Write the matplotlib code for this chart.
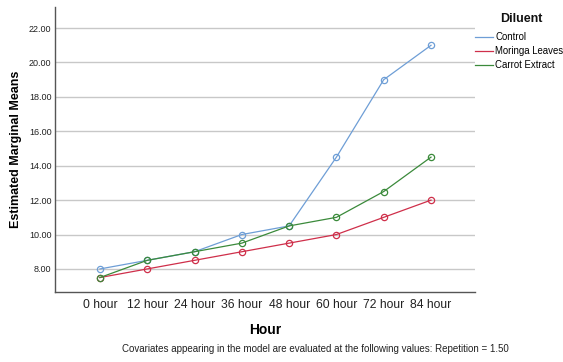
import matplotlib
matplotlib.use("Agg")
import matplotlib.pyplot as plt

plt.rcParams['font.family'] = ['Liberation Sans', 'DejaVu Sans']

hours = ["0 hour", "12 hour", "24 hour", "36 hour", "48 hour", "60 hour", "72 hour", "84 hour"]
control = [8.0, 8.5, 9.0, 10.0, 10.5, 14.5, 19.0, 21.0]
moringa = [7.5, 8.0, 8.5, 9.0, 9.5, 10.0, 11.0, 12.0]
carrot = [7.5, 8.5, 9.0, 9.5, 10.5, 11.0, 12.5, 14.5]
yticks = [8, 10, 12, 14, 16, 18, 20, 22]

series = [
    ("Control", control, "#6e9ed6"),
    ("Moringa Leaves", moringa, "#cf2f4a"),
    ("Carrot Extract", carrot, "#3b8a3b"),
]

fig = plt.figure(figsize=(5.63, 3.62), dpi=100)
ax = fig.add_axes([0.0977, 0.1934, 0.746, 0.787])

x = list(range(len(hours)))
for name, vals, col in series:
    ax.plot(x, vals, color=col, lw=0.9, marker="o", markersize=4.5,
            markerfacecolor="none", markeredgecolor=col, markeredgewidth=0.9,
            label=name)

ax.set_xlim(-0.95, 7.93)
ax.set_ylim(6.66, 23.22)
ax.set_xticks(x)
ax.set_xticklabels(hours, fontsize=8.7, color="#222222")
ax.set_yticks(yticks)
ax.set_yticklabels([f"{v:.2f}" for v in yticks], fontsize=6.5, color="#222222")
ax.tick_params(axis="y", length=0, pad=2.5)
ax.tick_params(axis="x", length=0, pad=5)
ax.grid(axis="y", color="#c8c8c8", lw=1.0)
ax.set_axisbelow(True)
for s in ["top", "right"]:
    ax.spines[s].set_visible(False)
for s in ["left", "bottom"]:
    ax.spines[s].set_color("#555555")
    ax.spines[s].set_linewidth(1.0)

ax.set_xlabel("Hour", fontsize=10, fontweight="bold", labelpad=9)
ax.set_ylabel("Estimated Marginal Means", fontsize=9, fontweight="bold", labelpad=5)

# legend entries, with the heading drawn separately above them
leg = ax.legend(loc="upper left", bbox_to_anchor=(1.0, 0.912), frameon=False,
                fontsize=6.9, handlelength=1.9, handletextpad=0.2,
                labelspacing=0.42, borderaxespad=0.0, borderpad=0.0)
for line in leg.get_lines():
    line.set_marker("")
fig.text(500 / 563, 1 - 19 / 362, "Diluent", ha="left", va="center",
         fontsize=9, fontweight="bold", color="#111111")

fig.text(0.56, 0.022, "Covariates appearing in the model are evaluated at the following values: Repetition = 1.50",
         ha="center", va="bottom", fontsize=7, color="#222222")

fig.savefig("out.png", dpi=100)
